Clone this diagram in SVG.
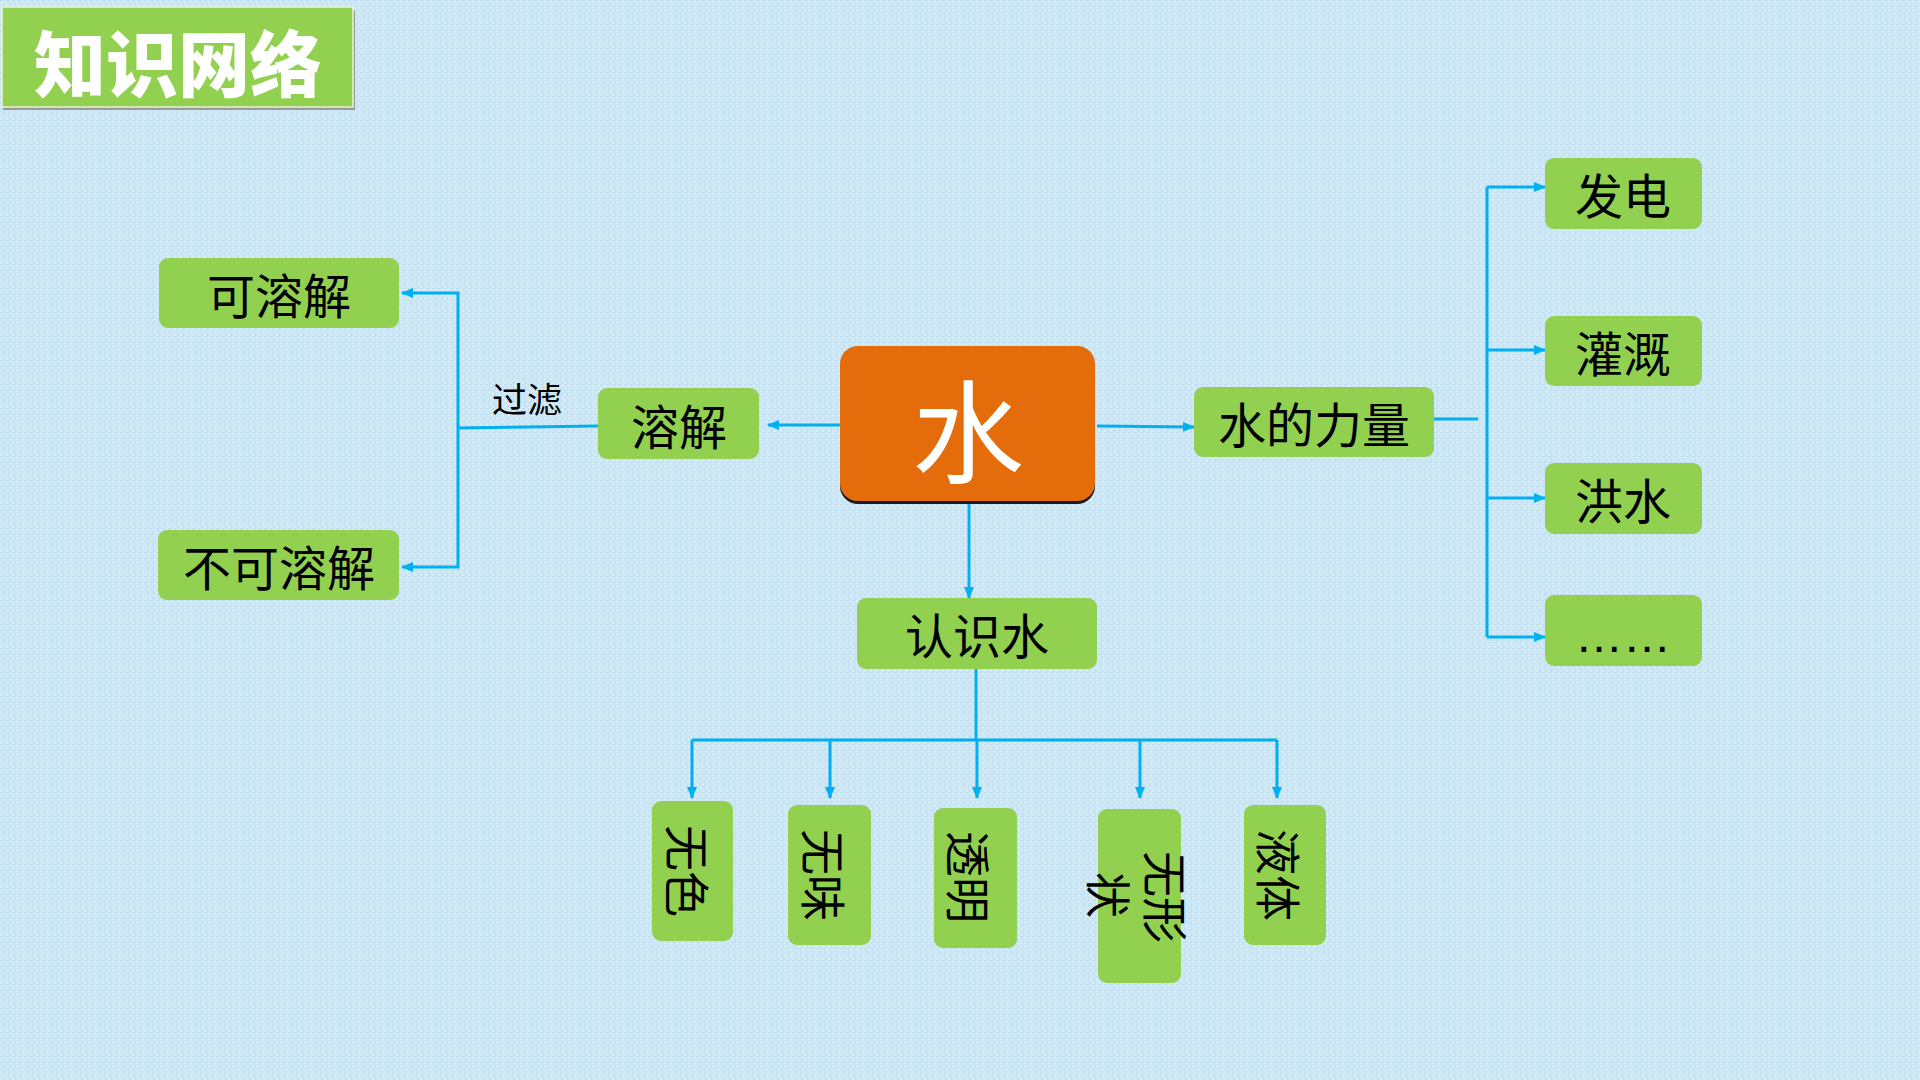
<svg xmlns="http://www.w3.org/2000/svg" width="1920" height="1080" viewBox="0 0 1920 1080">
<defs>
<pattern id="tex" width="6" height="6" patternUnits="userSpaceOnUse">
<rect width="6" height="6" fill="#cde7f5"/>
<rect x="0" y="0" width="3" height="1" fill="#bfdcee"/>
<rect x="3" y="3" width="1" height="3" fill="#bfdcee"/>
<rect x="4" y="1" width="2" height="1" fill="#dff0fa"/>
<rect x="1" y="4" width="1" height="2" fill="#dff0fa"/>
</pattern>
<marker id="arr" viewBox="0 0 12 10" refX="11" refY="5" markerWidth="12" markerHeight="10" markerUnits="userSpaceOnUse" orient="auto">
<path d="M0,0 L12,5 L0,10 Z" fill="#00b0f0"/>
</marker>
</defs>
<style>
.box{fill:#92d050;}
.lbl{font-family:"Noto Sans CJK SC","Noto Sans",sans-serif;font-size:48px;fill:#000;text-anchor:middle;dominant-baseline:central;}
.vl{font-family:"Noto Sans CJK SC","Noto Sans",sans-serif;font-size:46px;fill:#000;text-anchor:middle;dominant-baseline:central;}
.ln{fill:none;stroke:#00b0f0;stroke-width:3;}
.ar{fill:none;stroke:#00b0f0;stroke-width:3;marker-end:url(#arr);}
</style>
<rect width="1920" height="1080" fill="url(#tex)"/>

<g id="title">
<rect x="3" y="10" width="352" height="100" fill="#9a9a9a"/>
<rect x="2" y="7" width="351" height="100" fill="#92d050" stroke="#e8f5d8" stroke-width="1.5"/>
<text x="178" y="59" font-family="'Noto Sans CJK SC',sans-serif" font-size="72" font-weight="900" fill="#fff" text-anchor="middle" dominant-baseline="central">知识网络</text>
</g>

<g id="connectors">
<line class="ar" x1="840" y1="425" x2="768" y2="425"/>
<polyline class="ln" points="598,426 458,428"/>
<polyline class="ar" points="458,428 458,293 402,293"/>
<polyline class="ar" points="458,428 458,567 402,567"/>
<text x="527" y="397" font-family="'Noto Sans CJK SC',sans-serif" font-size="35" fill="#000" text-anchor="middle" dominant-baseline="central">过滤</text>
<line class="ar" x1="1097" y1="426" x2="1194" y2="427"/>
<line class="ln" x1="1434" y1="419" x2="1478" y2="419"/>
<line class="ln" x1="1487" y1="187" x2="1487" y2="637"/>
<line class="ar" x1="1487" y1="187" x2="1545" y2="187"/>
<line class="ar" x1="1487" y1="350" x2="1545" y2="350"/>
<line class="ar" x1="1487" y1="498" x2="1545" y2="498"/>
<line class="ar" x1="1487" y1="637" x2="1545" y2="637"/>
<line class="ar" x1="969" y1="503" x2="969" y2="598"/>
<line class="ln" x1="976" y1="669" x2="976" y2="740"/>
<line class="ln" x1="692" y1="740" x2="1277" y2="740"/>
<line class="ar" x1="692" y1="740" x2="692" y2="798"/>
<line class="ar" x1="830" y1="740" x2="830" y2="798"/>
<line class="ar" x1="977" y1="740" x2="977" y2="798"/>
<line class="ar" x1="1140" y1="740" x2="1140" y2="798"/>
<line class="ar" x1="1277" y1="740" x2="1277" y2="798"/>
</g>

<g id="water">
<rect x="840" y="350" width="255" height="154" rx="18" fill="#1a1a1a"/>
<rect x="840" y="346" width="255" height="155" rx="18" fill="#e46c0a"/>
<text x="968" y="426" font-family="'Noto Sans CJK SC',sans-serif" font-size="112" fill="#fff" text-anchor="middle" dominant-baseline="central">水</text>
</g>

<g id="rongjie">
<rect class="box" x="598" y="388" width="161" height="71" rx="9"/>
<text class="lbl" x="679" y="424">溶解</text>
</g>
<g id="kerongjie">
<rect class="box" x="159" y="258" width="240" height="70" rx="9"/>
<text class="lbl" x="279" y="293">可溶解</text>
</g>
<g id="burongjie">
<rect class="box" x="158" y="530" width="241" height="70" rx="9"/>
<text class="lbl" x="279" y="565">不可溶解</text>
</g>
<g id="liliang">
<rect class="box" x="1194" y="387" width="240" height="70" rx="9"/>
<text class="lbl" x="1314" y="422">水的力量</text>
</g>
<g id="fadian">
<rect class="box" x="1545" y="158" width="157" height="71" rx="9"/>
<text class="lbl" x="1623" y="193">发电</text>
</g>
<g id="guangai">
<rect class="box" x="1545" y="316" width="157" height="70" rx="9"/>
<text class="lbl" x="1623" y="351">灌溉</text>
</g>
<g id="hongshui">
<rect class="box" x="1545" y="463" width="157" height="71" rx="9"/>
<text class="lbl" x="1623" y="498">洪水</text>
</g>
<g id="etc">
<rect class="box" x="1545" y="595" width="157" height="71" rx="9"/>
<text x="1623" y="652" font-family="'Liberation Sans',sans-serif" font-size="48" fill="#000" text-anchor="middle">……</text>
</g>
<g id="renshishui">
<rect class="box" x="857" y="598" width="240" height="71" rx="9"/>
<text class="lbl" x="977" y="633">认识水</text>
</g>

<g id="wuse">
<rect class="box" x="652" y="801" width="81" height="140" rx="9"/>
<text class="vl" x="690" y="871" transform="rotate(90 690 871)">无色</text>
</g>
<g id="wuwei">
<rect class="box" x="788" y="805" width="83" height="140" rx="9"/>
<text class="vl" x="826" y="875" transform="rotate(90 826 875)">无味</text>
</g>
<g id="touming">
<rect class="box" x="934" y="808" width="83" height="140" rx="9"/>
<text class="vl" x="971" y="877" transform="rotate(90 971 877)">透明</text>
</g>
<g id="wuxingzhuang">
<rect class="box" x="1098" y="809" width="83" height="174" rx="9"/>
<text class="vl" x="1168" y="897" transform="rotate(90 1168 897)">无形</text>
<text class="vl" x="1111" y="895" transform="rotate(90 1111 895)">状</text>
</g>
<g id="yeti">
<rect class="box" x="1244" y="805" width="82" height="140" rx="9"/>
<text class="vl" x="1281" y="875" transform="rotate(90 1281 875)">液体</text>
</g>
</svg>
